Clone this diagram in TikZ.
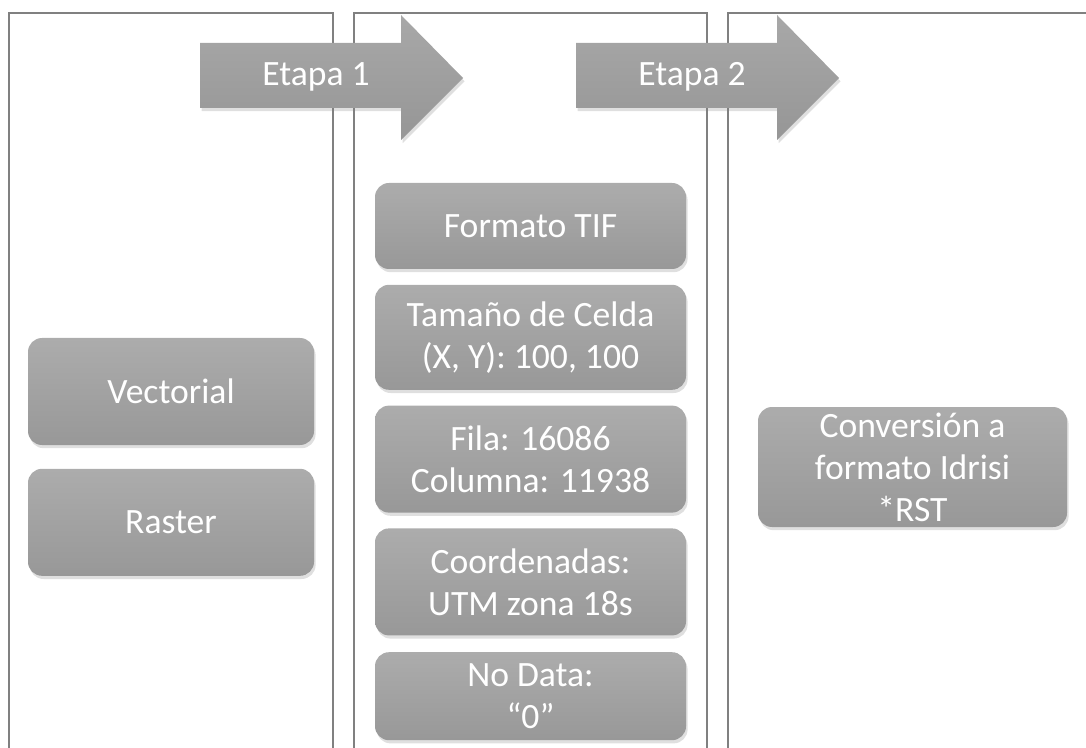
\documentclass[tikz,border=0pt]{standalone}
\usepackage{fontspec}
\setmainfont{Carlito}
\usepackage{tikz}
\usetikzlibrary{positioning,shadows}
\definecolor{panelline}{RGB}{128,128,128}
\definecolor{boxtop}{RGB}{172,172,172}
\definecolor{boxbot}{RGB}{152,152,152}
\definecolor{arrowtop}{RGB}{168,168,168}
\definecolor{arrowbot}{RGB}{150,150,150}
\tikzset{
  panel/.style={draw=panelline, line width=1pt},
  stepbox/.style={rectangle, rounded corners=7pt, align=center, text=white,
                  top color=boxtop, bottom color=boxbot, inner sep=1pt,
                  font=\fontsize{17.8}{21}\selectfont,
                  drop shadow={shadow xshift=0.8pt, shadow yshift=-1.6pt, opacity=0.25}},
  leftbox/.style={stepbox, minimum width=143pt, minimum height=53.5pt},
  midbox/.style={stepbox, minimum width=155.5pt},
  stagearrow/.style={top color=arrowtop, bottom color=arrowbot,
                     drop shadow={shadow xshift=0.8pt, shadow yshift=-1.6pt, opacity=0.25}},
  stagetext/.style={text=white, font=\fontsize{17.8}{21}\selectfont, inner sep=0pt},
}
\begin{document}
\begin{tikzpicture}[x=0.5pt, y=-0.5pt]
  \useasboundingbox (0,0) rectangle (1086,748);
  % panels
  \draw[panel] (9,760) |- (333,13) -- (333,760);
  \draw[panel] (354,760) |- (707,13) -- (707,760);
  \draw[panel] (728,760) |- (1100,13);
  % stage arrows
  \foreach \x/\t [count=\i] in {200/Etapa 1, 576/Etapa 2} {
    \path[stagearrow] (\x,43) -- ++(201,0) -- ++(0,-28) -- ++(62,63)
      -- ++(-62,62) -- ++(0,-32) -- ++(-201,0) -- cycle;
    \node[stagetext] (etapa\i) at (\x+116,77) {\t};
  }
  % first panel
  \node[leftbox] (vect) at (171,391.5) {Vectorial};
  \node[leftbox, below=11.5pt of vect] (rast) {Raster};
  % second panel
  \node[midbox, minimum height=43pt] (tif) at (530.5,226) {Formato TIF};
  \node[midbox, minimum height=52.5pt, below=7.5pt of tif] (celda) {Tamaño de Celda\\(X, Y): 100, 100};
  \node[midbox, minimum height=53.5pt, below=7.5pt of celda] (fila) {Fila: 16086\\Columna: 11938};
  \node[midbox, minimum height=53.5pt, below=7.5pt of fila] (coord) {Coordenadas:\\UTM zona 18s};
  \node[midbox, minimum height=44pt, below=8pt of coord] (nodata) {No Data:\\“0”};
  % third panel
  \node[stepbox, minimum width=154.5pt, minimum height=60pt] (idrisi) at (912.5,467) {Conversión a\\formato Idrisi\\*RST};
\end{tikzpicture}
\end{document}
